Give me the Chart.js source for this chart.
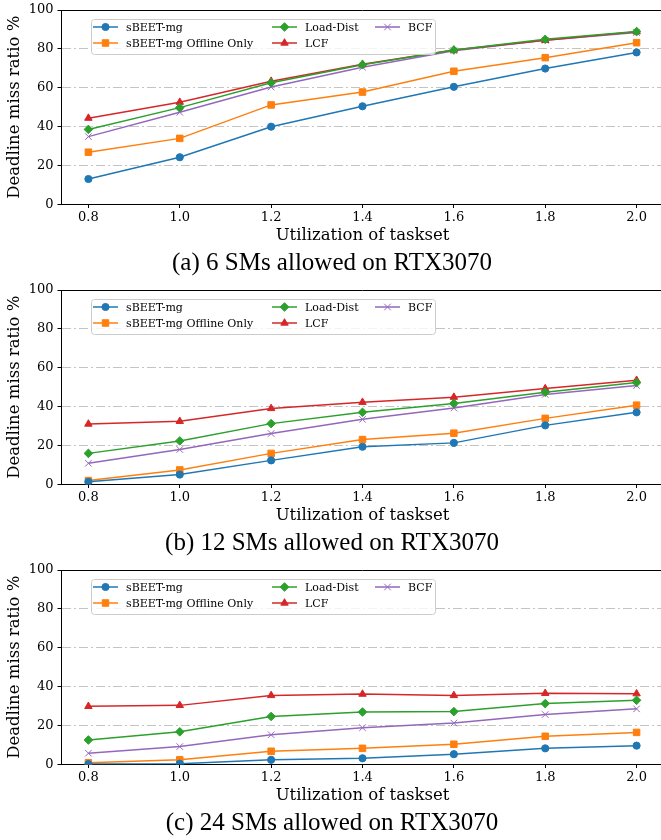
<!DOCTYPE html>
<html>
<head>
<meta charset="utf-8">
<script src="https://cdn.jsdelivr.net/npm/chart.js@4/dist/chart.umd.min.js"></script>
<style>
  body { margin: 0; background: #fff; overflow: hidden; }
  .panel { width: 661px; height: 280px; overflow: hidden; }
  canvas { display: block; }
</style>
</head>
<body>
<div class="panel"><canvas id="chartA" width="664" height="280"></canvas></div>
<div class="panel"><canvas id="chartB" width="664" height="280"></canvas></div>
<div class="panel"><canvas id="chartC" width="664" height="280"></canvas></div>
<script>
const utilization = [0.8, 1.0, 1.2, 1.4, 1.6, 1.8, 2.0];
const seriesNames = ["sBEET-mg", "sBEET-mg Offline Only", "Load-Dist", "LCF", "BCF"];
const yTicks = [0, 20, 40, 60, 80, 100];

// (a) 6 SMs
const sbeet6 = [13.1, 24.3, 40.0, 50.5, 60.5, 69.9, 78.2];
const offline6 = [26.9, 34.0, 51.2, 57.8, 68.5, 75.5, 83.2];
const loadDist6 = [38.6, 49.8, 62.6, 71.9, 79.4, 84.9, 88.9];
const lcf6 = [44.4, 52.6, 63.4, 72.1, 79.4, 84.4, 88.8];
const bcf6 = [34.9, 47.4, 60.4, 70.6, 79.1, 84.4, 88.4];

// (b) 12 SMs
const sbeet12 = [1.4, 5.1, 12.4, 19.4, 21.4, 30.4, 37.1];
const offline12 = [2.0, 7.5, 16.0, 23.1, 26.4, 34.0, 40.8];
const loadDist12 = [16.0, 22.4, 31.3, 37.1, 41.7, 47.4, 52.4];
const lcf12 = [31.1, 32.5, 39.1, 42.3, 44.9, 49.3, 53.6];
const bcf12 = [10.9, 18.0, 26.2, 33.5, 39.3, 46.3, 50.9];

// (c) 24 SMs
const sbeet24 = [0.2, 0.4, 2.4, 3.2, 5.3, 8.3, 9.7];
const offline24 = [0.9, 2.4, 6.8, 8.3, 10.4, 14.5, 16.5];
const loadDist24 = [12.6, 16.8, 24.7, 27.0, 27.2, 31.3, 33.0];
const lcf24 = [29.9, 30.4, 35.5, 36.2, 35.5, 36.6, 36.4];
const bcf24 = [5.8, 9.2, 15.3, 18.9, 21.3, 25.7, 28.6];

const colors = ["#1f77b4", "#ff7f0e", "#2ca02c", "#d62728", "#9467bd"];
const markers = [
    { pointStyle: "circle", radius: 3.6 },
    { pointStyle: "rect", radius: 4.6 },
    { pointStyle: "rectRot", radius: 4.3 },
    { pointStyle: "triangle", radius: 4.3 },
    { pointStyle: "crossRot", radius: 4.6 }
];

const dejavu = "'DejaVu Serif', serif";
const times = "'Liberation Serif', 'Times New Roman', serif";

// top spine (left and bottom come from the axis borders, right one is cut off)
const framePlugin = {
    id: "frame",
    afterDraw(chart) {
        const { ctx, chartArea: a } = chart;
        const y = Math.round(a.top) + 0.5;
        ctx.save();
        ctx.strokeStyle = "#000";
        ctx.lineWidth = 1;
        ctx.beginPath();
        ctx.moveTo(a.left, y);
        ctx.lineTo(a.right, y);
        ctx.stroke();
        ctx.restore();
    }
};

// three-column legend, filled column by column
const legendPlugin = {
    id: "colLegend",
    afterDraw(chart) {
        const ctx = chart.ctx;
        const handleX = [93, 272, 375];
        const rowY = [27, 43];
        ctx.save();
        ctx.beginPath();
        ctx.roundRect(91.5, 19.5, 344, 35, 3);
        ctx.fillStyle = "rgba(255,255,255,0.8)";
        ctx.fill();
        ctx.strokeStyle = "#cccccc";
        ctx.lineWidth = 1;
        ctx.stroke();
        ctx.font = "11px " + dejavu;
        ctx.textBaseline = "middle";
        chart.data.datasets.forEach((ds, i) => {
            const x = handleX[Math.floor(i / 2)];
            const y = rowY[i % 2];
            ctx.strokeStyle = ds.borderColor;
            ctx.lineWidth = 1.5;
            ctx.beginPath();
            ctx.moveTo(x, y);
            ctx.lineTo(x + 25, y);
            ctx.stroke();
            ctx.fillStyle = ds.borderColor;
            ctx.lineWidth = 1;
            Chart.helpers.drawPoint(ctx, {
                pointStyle: ds.pointStyle,
                radius: ds.pointRadius,
                rotation: 0,
                borderWidth: 1
            }, x + 12.5, y);
            ctx.fillStyle = "#000";
            ctx.fillText(ds.label, x + 33, y + 1);
        });
        ctx.restore();
    }
};

function plotPanel(id, caption, series) {
    const canvas = document.getElementById(id);
    new Chart(canvas, {
        type: "line",
        data: {
            datasets: series.map((vals, i) => ({
                label: seriesNames[i],
                data: utilization.map((u, k) => ({ x: u, y: vals[k] })),
                borderColor: colors[i],
                backgroundColor: colors[i],
                pointBackgroundColor: colors[i],
                pointBorderColor: colors[i],
                pointBorderWidth: 1,
                pointStyle: markers[i].pointStyle,
                pointRadius: markers[i].radius,
                borderWidth: 1.5,
                tension: 0
            }))
        },
        options: {
            responsive: false,
            animation: false,
            devicePixelRatio: 1,
            layout: { autoPadding: false, padding: { top: 10, right: 0, left: 0, bottom: 0 } },
            scales: {
                x: {
                    type: "linear",
                    min: 0.74,
                    max: 2.06,
                    afterBuildTicks: (axis) => {
                        axis.ticks = utilization.map(v => ({ value: v }));
                    },
                    afterFit: (axis) => {
                        axis.height = 41.5;
                        axis.paddingLeft = 0;
                        axis.paddingRight = 0;
                    },
                    ticks: {
                        callback: (v) => Number(v).toFixed(1),
                        color: "#000",
                        padding: 2,
                        maxRotation: 0,
                        font: { family: dejavu, size: 13 }
                    },
                    grid: {
                        drawOnChartArea: false,
                        tickLength: 3.5,
                        tickColor: "#000"
                    },
                    border: { display: true, color: "#000" },
                    title: {
                        display: true,
                        text: "Utilization of taskset",
                        color: "#000",
                        padding: 0,
                        font: { family: dejavu, size: 16.5 }
                    }
                },
                y: {
                    min: 0,
                    max: 100,
                    afterBuildTicks: (axis) => {
                        axis.ticks = yTicks.map(v => ({ value: v }));
                    },
                    afterFit: (axis) => {
                        axis.width = 61;
                        axis.paddingTop = 0;
                        axis.paddingBottom = 0;
                    },
                    ticks: {
                        color: "#000",
                        padding: 4,
                        font: { family: dejavu, size: 13 }
                    },
                    grid: {
                        color: (c) => (c.tick && (c.tick.value === 0 || c.tick.value === 100)) ? "rgba(0,0,0,0)" : "#c4c4c4",
                        lineWidth: 1,
                        tickLength: 3.5,
                        tickColor: "#000"
                    },
                    border: { display: true, color: "#000", dash: [9, 3, 2, 3] },
                    title: {
                        display: true,
                        text: "Deadline miss ratio %",
                        color: "#000",
                        padding: { top: 5, bottom: 0 },
                        font: { family: dejavu, size: 16.5 }
                    }
                }
            },
            plugins: {
                legend: { display: false },
                tooltip: { enabled: false },
                title: {
                    display: true,
                    position: "bottom",
                    text: caption,
                    color: "#000",
                    padding: { top: 2.3, bottom: 1.7 },
                    font: { family: times, size: 25, weight: "normal" }
                }
            }
        },
        plugins: [framePlugin, legendPlugin]
    });
}

plotPanel("chartA", "(a) 6 SMs allowed on RTX3070", [sbeet6, offline6, loadDist6, lcf6, bcf6]);
plotPanel("chartB", "(b) 12 SMs allowed on RTX3070", [sbeet12, offline12, loadDist12, lcf12, bcf12]);
plotPanel("chartC", "(c) 24 SMs allowed on RTX3070", [sbeet24, offline24, loadDist24, lcf24, bcf24]);
</script>
</body>
</html>
